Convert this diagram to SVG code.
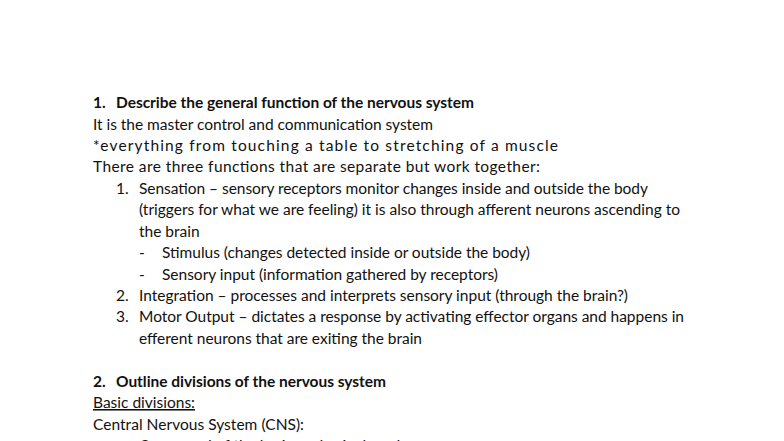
<svg xmlns="http://www.w3.org/2000/svg" width="784" height="441" viewBox="0 0 784 441">
<style>
text{font-family:Lato,"Liberation Sans",sans-serif;font-size:15.5px;fill:#111}
.b{font-weight:bold}
</style>
<rect width="784" height="441" fill="#fff"/>
<text class="b" x="93" y="108">1.</text><text class="b" x="116" y="108" textLength="358">Describe the general function of the nervous system</text>
<text x="93" y="130" textLength="340">It is the master control and communication system</text>
<text x="93" y="151" textLength="465">*everything from touching a table to stretching of a muscle</text>
<text x="93" y="172" textLength="447">There are three functions that are separate but work together:</text>
<text x="116" y="194">1.</text><text x="139" y="194" textLength="509">Sensation – sensory receptors monitor changes inside and outside the body</text>
<text x="139" y="215" textLength="541">(triggers for what we are feeling) it is also through afferent neurons ascending to</text>
<text x="139" y="237">the brain</text>
<text x="139" y="258">-</text><text x="162" y="258" textLength="368">Stimulus (changes detected inside or outside the body)</text>
<text x="139" y="280">-</text><text x="162" y="280" textLength="336">Sensory input (information gathered by receptors)</text>
<text x="116" y="301">2.</text><text x="139" y="301" textLength="489">Integration – processes and interprets sensory input (through the brain?)</text>
<text x="116" y="322">3.</text><text x="139" y="322" textLength="545">Motor Output – dictates a response by activating effector organs and happens in</text>
<text x="139" y="344" textLength="283">efferent neurons that are exiting the brain</text>
<text class="b" x="93" y="387">2.</text><text class="b" x="116" y="387" textLength="270">Outline divisions of the nervous system</text>
<text x="93" y="408" text-decoration="underline">Basic divisions:</text>
<text x="93" y="430" textLength="211">Central Nervous System (CNS):</text>
<text x="139" y="451">Composed of the brain and spinal cord</text>
</svg>
